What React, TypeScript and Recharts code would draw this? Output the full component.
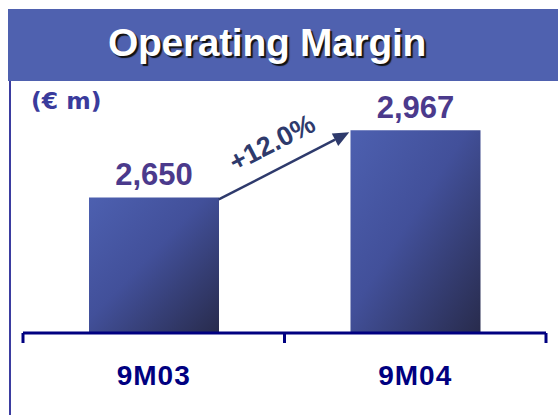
import { Bar, BarChart, LabelList, ReferenceLine, XAxis, YAxis } from "recharts";

const categories = ["9M03", "9M04"];
const margins = [2650, 2967];
const marginLabels = ["2,650", "2,967"];
const growthLabel = "+12.0%";
const yDomain = [2010, 3200];

const data = categories.map((period, i) => ({
  period,
  value: margins[i],
  label: marginLabels[i],
}));

const BAR_WIDTH = 130;
const ARIAL = '"Liberation Sans", Arial, sans-serif';

function PeriodTick(props: any) {
  const { x, y, payload, index, visibleTicksCount, width } = props;
  const half =
    payload && payload.offset ? payload.offset : width / visibleTicksCount / 2;
  return (
    <g>
      <line x1={x - half} y1={y} x2={x - half} y2={y + 10} stroke="#000080" strokeWidth={3} />
      {index === visibleTicksCount - 1 && (
        <line x1={x + half} y1={y} x2={x + half} y2={y + 10} stroke="#000080" strokeWidth={3} />
      )}
      <text
        x={x}
        y={y + 52}
        textAnchor="middle"
        fill="#000080"
        fontFamily={ARIAL}
        fontWeight="bold"
        fontSize={28}
        letterSpacing={1}
      >
        {payload.value}
      </text>
    </g>
  );
}

// arrow from top-right of first bar to top-left of second bar
function GrowthArrow(props: any) {
  const { x1, y1, x2, y2 } = props;
  if (x1 == null || x2 == null) return null;
  const sx = x1 + BAR_WIDTH / 2;
  const sy = y1 + 2;
  const ex = x2 - BAR_WIDTH / 2 - 1;
  const ey = y2 + 2;
  const len = Math.hypot(ex - sx, ey - sy);
  const dx = (ex - sx) / len;
  const dy = (ey - sy) / len;
  const head = 16;
  const bx = ex - dx * head;
  const by = ey - dy * head;
  const nx = -dy;
  const ny = dx;
  const angle = (Math.atan2(ey - sy, ex - sx) * 180) / Math.PI;
  const mx = (sx + ex) / 2 - nx * 26;
  const my = (sy + ey) / 2 - ny * 26;
  return (
    <g>
      <line x1={sx} y1={sy} x2={bx} y2={by} stroke="#2E3A6C" strokeWidth={2.5} />
      <polygon
        points={`${ex},${ey} ${bx + nx * 7},${by + ny * 7} ${bx - nx * 7},${by - ny * 7}`}
        fill="#2E3A6C"
      />
      <text
        x={mx}
        y={my}
        transform={`rotate(${angle} ${mx} ${my})`}
        textAnchor="middle"
        dominantBaseline="central"
        fill="#2E3A6C"
        fontFamily={ARIAL}
        fontWeight="bold"
        fontSize={27}
      >
        {growthLabel}
      </text>
    </g>
  );
}

export default function App() {
  return (
    <div style={{ position: "absolute", left: 0, top: 0, width: 558, height: 415, background: "#fff" }}>
      <div
        style={{
          position: "absolute",
          left: 8,
          top: 9,
          width: 550,
          height: 72,
          background: "#4F61AF",
        }}
      />
      <div
        style={{
          position: "absolute",
          left: 0,
          width: 534,
          top: 19,
          textAlign: "center",
          color: "#fff",
          fontFamily: ARIAL,
          fontWeight: "bold",
          fontSize: 39,
          lineHeight: "48px",
          letterSpacing: -0.3,
          textShadow: "2px 2px 1px #111",
        }}
      >
        Operating Margin
      </div>
      <div
        style={{ position: "absolute", left: 9, top: 81, width: 2, height: 334, background: "#3B3DA0" }}
      />
      <div
        style={{
          position: "absolute",
          left: 31,
          top: 86,
          color: "#3A3B9C",
          fontFamily: '"DejaVu Sans", sans-serif',
          fontWeight: "bold",
          fontSize: 23.5,
          lineHeight: "30px",
        }}
      >
        (€ m)
      </div>
      <div style={{ position: "absolute", left: 0, top: 0 }}>
        <BarChart
          width={558}
          height={415}
          data={data}
          margin={{ top: 81, right: 12, left: 23, bottom: 22 }}
        >
          <defs>
            <linearGradient id="barGradient" x1="0" y1="0" x2="1" y2="1">
              <stop offset="0%" stopColor="#4D60B0" />
              <stop offset="45%" stopColor="#42509A" />
              <stop offset="100%" stopColor="#282B4C" />
            </linearGradient>
          </defs>
          <XAxis
            dataKey="period"
            height={60}
            axisLine={{ stroke: "#000080", strokeWidth: 3 }}
            tickLine={false}
            tickSize={0}
            tickMargin={0}
            tick={<PeriodTick />}
            interval={0}
          />
          <YAxis hide domain={yDomain} allowDataOverflow />
          <Bar
            dataKey="value"
            barSize={BAR_WIDTH}
            fill="url(#barGradient)"
            isAnimationActive={false}
          >
            <LabelList
              dataKey="label"
              position="top"
              offset={12}
              fill="#4B3A8C"
              fontFamily={ARIAL}
              fontWeight="bold"
              fontSize={31}
            />
          </Bar>
          <ReferenceLine
            segment={[
              { x: categories[0], y: margins[0] },
              { x: categories[1], y: margins[1] },
            ]}
            ifOverflow="visible"
            shape={<GrowthArrow />}
          />
        </BarChart>
      </div>
    </div>
  );
}
